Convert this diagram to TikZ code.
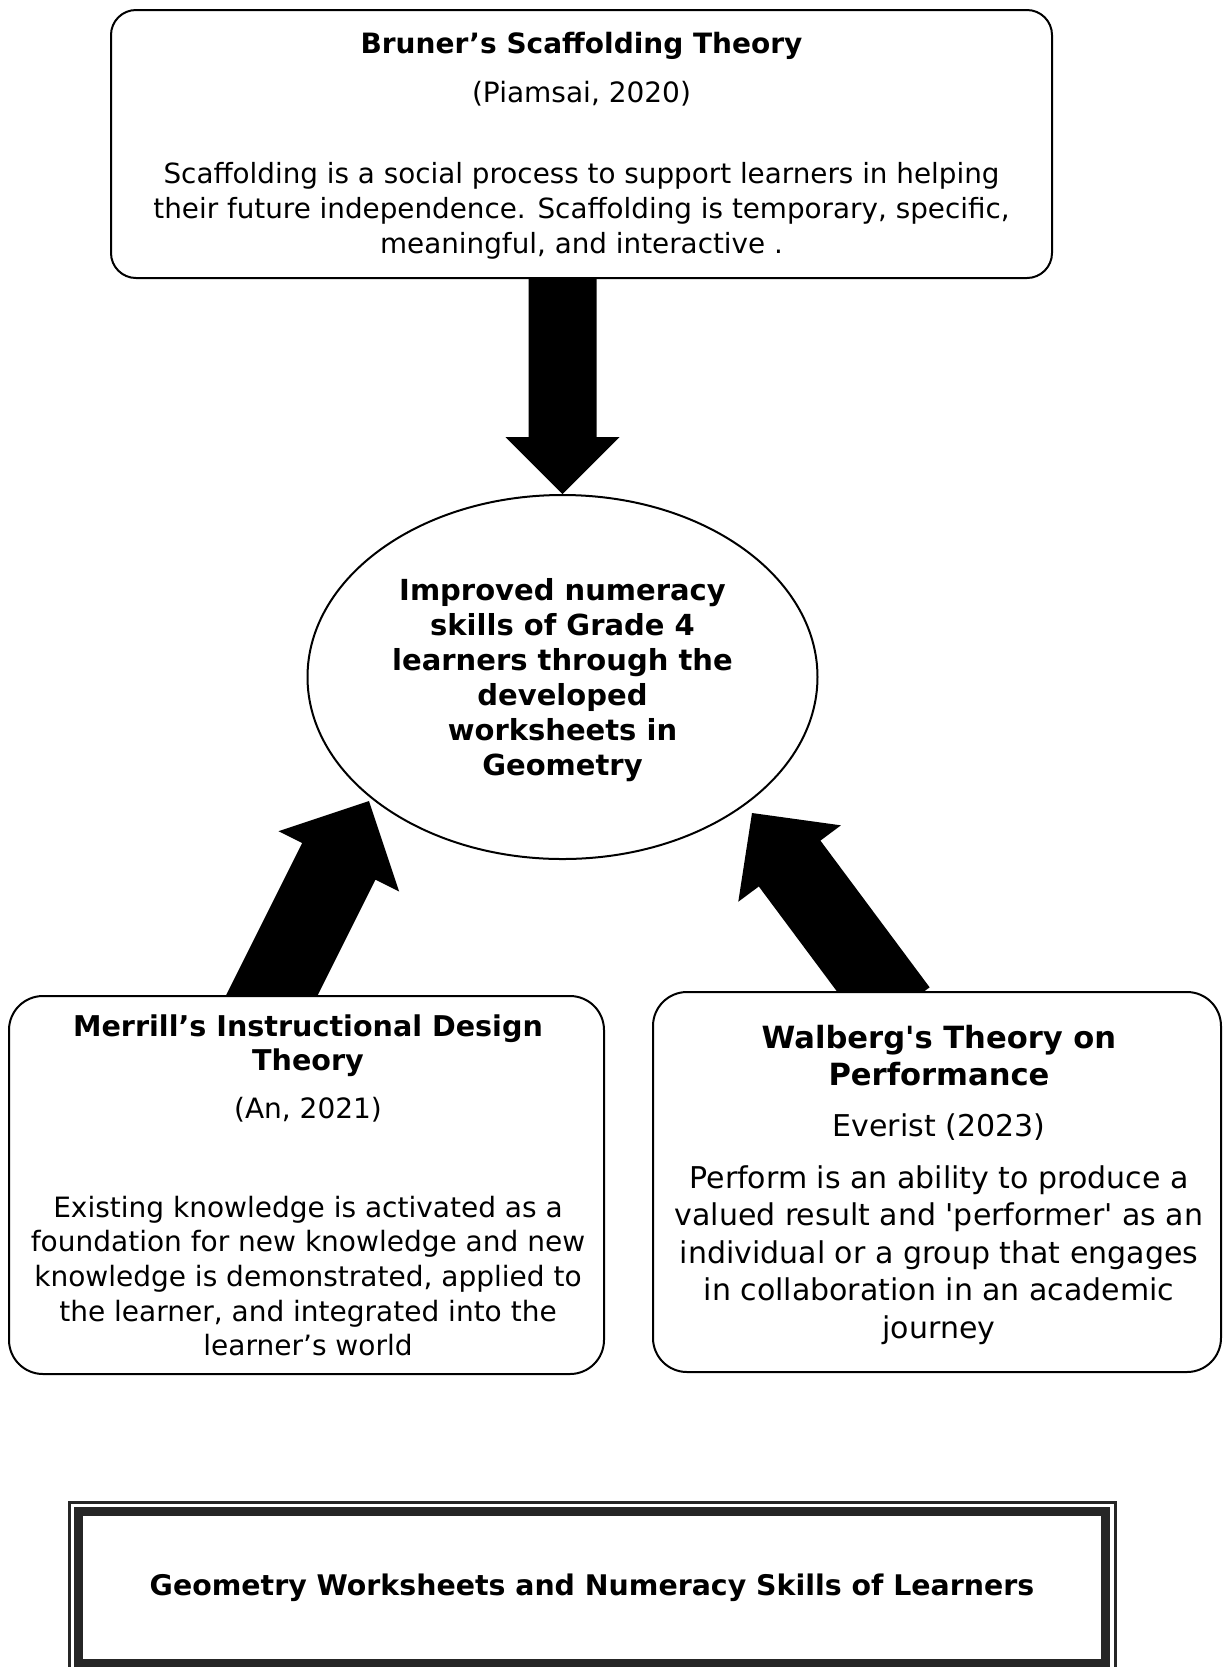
\documentclass[tikz,border=0pt]{standalone}
\usepackage{fontspec}
\setmainfont{DejaVu Sans}
\usetikzlibrary{
    calc,             % For coordinate calculations
    shapes.geometric, % For the ellipse
    backgrounds       % For putting the arrows behind the boxes
}

% Block arrow from #1 (tail) to #2 (tip):
% #3 half shaft width, #4 half head width, #5 head length
\newcommand{\fatarrow}[5]{%
    \coordinate (hb) at ($(#2)!#5!(#1)$);  % middle of the head base
    \coordinate (tb) at ($(#1)!-12pt!(#2)$); % tail, pushed into the box
    \fill[arrowfill] ($(tb)!#3!90:(#2)$) -- ($(hb)!#3!90:(#2)$) -- ($(hb)!#4!90:(#2)$) -- (#2)
        -- ($(hb)!#4!-90:(#2)$) -- ($(hb)!#3!-90:(#2)$) -- ($(tb)!#3!-90:(#2)$) -- cycle;
}

\begin{document}
\begin{tikzpicture}[
    x=0.5pt, y=-0.5pt, % one unit = one pixel of the page, y downwards
    theorybox/.style={draw, line width=1pt, fill=white, inner sep=0pt}, % Rounded theory boxes
    txt/.style={inner sep=0pt, align=center},
    headtext/.style={txt, font=\bfseries\fontsize{14}{17}\selectfont},
    bodytext/.style={txt, font=\fontsize{14}{17.5}\selectfont},
    arrowfill/.style={fill=black},
    geoframe/.style={draw=black!85}
]
    \useasboundingbox (0,0) rectangle (1224,1667);

    % Boxes
    \node[theorybox, rounded corners=12.5pt, minimum width=470.5pt, minimum height=134pt] (bruner) at (581.5,144) {};
    \node[theorybox, rounded corners=17pt, minimum width=297.5pt, minimum height=189pt] (merrill) at (306.5,1185) {};
    \node[theorybox, rounded corners=17pt, minimum width=284pt, minimum height=190pt] (walberg) at (937,1182) {};

    % Central ellipse
    \node[draw, ellipse, line width=1pt, inner sep=0pt, minimum width=255pt, minimum height=182pt] (goal) at (562.5,677) {};
    \node[txt, font=\bfseries\fontsize{14.5}{17.5}\selectfont] (goaltext) at (562.5,680)
        {Improved numeracy\\ skills of Grade 4\\ learners through the\\ developed\\ worksheets in\\ Geometry};

    % Tails and tips of the block arrows
    \coordinate (btail) at (goal.north |- bruner.south); % Bottom of Bruner box
    \coordinate (mtail) at ([xshift=-17.25pt]merrill.north); % Top of Merrill box
    \coordinate (mtip)  at (369,801);
    \coordinate (wtail) at ([xshift=-26.25pt]walberg.north); % Top of Walberg box
    \coordinate (wtip)  at (752,813);

    \begin{scope}[on background layer]
        \fatarrow{btail}{goal.north}{17pt}{28.5pt}{28.5pt}
        \fatarrow{mtail}{mtip}{20.5pt}{33.75pt}{33.75pt}
        \fatarrow{wtail}{wtip}{19.2pt}{32pt}{31.5pt}
    \end{scope}

    % Bruner's text
    \node[headtext] (brunerhead) at (581.5,46) {Bruner’s Scaffolding Theory};
    \node[bodytext] (brunercite) at (581.5,93.5) {(Piamsai, 2020)};
    \node[bodytext, font=\fontsize{13.9}{17.5}\selectfont] (brunerbody) at (581.5,211)
        {Scaffolding is a social process to support learners in helping\\
        their future independence. Scaffolding is temporary, specific,\\ meaningful, and interactive .};

    % Merrill's text
    \node[headtext, font=\bfseries\fontsize{14.3}{17}\selectfont] (merrillhead) at (308,1046)
        {Merrill’s Instructional Design\\ Theory};
    \node[bodytext] (merrillcite) at (308,1110) {(An, 2021)};
    \node[bodytext, font=\fontsize{14}{17.3}\selectfont] (merrillbody) at (308,1276)
        {Existing knowledge is activated as a\\ foundation for new knowledge and new\\
        knowledge is demonstrated, applied to\\ the learner, and integrated into the\\ learner’s world};

    % Walberg's text
    \node[headtext, font=\bfseries\fontsize{15.3}{18.5}\selectfont] (walberghead) at (939,1055.5)
        {Walberg\textquotesingle s Theory on\\ Performance};
    \node[bodytext, font=\fontsize{15}{18.5}\selectfont] (walbergcite) at (939,1127.5) {Everist (2023)};
    \node[bodytext, font=\fontsize{15}{18.75}\selectfont] (walbergbody) at (939,1255)
        {Perform is an ability to produce a\\ valued result and \textquotesingle performer\textquotesingle{} as an\\
        individual or a group that engages\\ in collaboration in an academic\\ journey};

    % Bottom title frame
    \node[geoframe, line width=4.5pt, inner sep=0pt, minimum width=513.5pt, minimum height=76pt,
        font=\bfseries\fontsize{14.2}{17}\selectfont] (geo) at (592,1587.5)
        {Geometry Worksheets and Numeracy Skills of Learners};
    \draw[geoframe, line width=1.5pt] ([shift={(-2.25pt,2.25pt)}]geo.north west) rectangle ([shift={(2.5pt,-2.25pt)}]geo.south east);

\end{tikzpicture}
\end{document}
